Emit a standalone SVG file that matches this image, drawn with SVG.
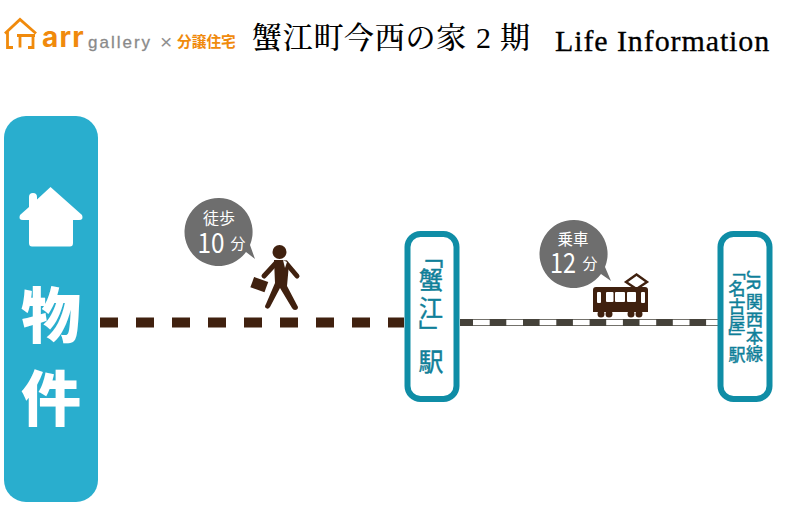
<svg xmlns="http://www.w3.org/2000/svg" width="800" height="506" viewBox="0 0 800 506">
<style>
.jp{font-family:"Noto Sans CJK JP","Noto Sans",sans-serif}
.serif{font-family:"Liberation Serif","Noto Serif CJK JP",serif}
.st{fill:#fff;stroke:#0f8da6;stroke-width:6}
.v{fill:#0f7f99;stroke:#0f7f99;stroke-width:.45;font-family:"Noto Sans CJK JP",sans-serif;writing-mode:vertical-rl}
.bub{fill:#6e6e6e}
.bt{fill:#fff;font-family:"Noto Sans CJK JP",sans-serif;text-anchor:middle}
.br{fill:#40210f}
.brl{stroke:#40210f;stroke-linecap:round;fill:none}
</style>
<rect width="800" height="506" fill="#fff"/>
<g id="header">
<g id="logo" fill="none" stroke="#f08a0c" stroke-width="2.800">
<path d="M5 33.500 L20 19.500 L36 33.500"/>
<path d="M7.500 32 V47.500 H13 M17 35.500 H35 M20 35.500 V47.500 M33 35.500 V47.500 H28"/>
</g>
<text x="42" y="47" font-family="Inter,'Liberation Sans',sans-serif" font-size="28" font-weight="700" fill="#f08a0c" letter-spacing="1.200">arr</text>
<text x="88" y="48" font-family="'Liberation Sans',sans-serif" font-size="17" fill="#8a8a8a" stroke="#8a8a8a" stroke-width=".3" letter-spacing="2">gallery</text>
<text x="160" y="49" font-family="'Liberation Sans',sans-serif" font-size="21" fill="#8f8f8f">×</text>
<text x="177" y="47" class="jp" font-size="14.700" font-weight="700" fill="#f08a0c">分譲住宅</text>
<text x="252" y="48" font-family="'Noto Serif CJK JP','Liberation Serif','Noto Sans CJK JP',serif" font-size="30" font-weight="500" fill="#000" letter-spacing=".7">蟹江町今西の家</text>
<text x="476" y="48" class="serif" font-size="30" fill="#000">2</text>
<text x="500" y="48" font-family="'Noto Serif CJK JP','Liberation Serif','Noto Sans CJK JP',serif" font-size="30" font-weight="500" fill="#000">期</text>
<text x="555" y="51" class="serif" font-size="30" fill="#000" stroke="#000" stroke-width=".3" letter-spacing=".9">Life Information</text>
</g>
<g id="connectors">
<path d="M100 322.500H404" stroke="#40210f" stroke-width="10" stroke-dasharray="18 18" fill="none"/>
<path d="M460 322.500H718" stroke="#45423a" stroke-width="7" fill="none"/>
<path d="M473 322.500H718" stroke="#fff" stroke-width="5.500" stroke-dasharray="16.700 16.600" fill="none"/>
</g>
<g id="property">
<rect x="4" y="116" width="94" height="386" rx="22" fill="#29aece"/>
<path d="M50.500 187 L82 215 Q84 220 79 220 H73 V243 Q73 246.500 70 246.500 H32 Q29 246.500 29 243 V220 H23 Q18 220 20 215 L29 207 V197 Q29 193 33 193 Q37 193 37 197 V199.500Z" fill="#fff"/>
<text class="bt" x="51" y="338" font-size="60" font-weight="900">物</text>
<text class="bt" x="51" y="421" font-size="60" font-weight="900">件</text>
</g>
<g id="walk-badge">
<path class="bub" d="M219 198 A34 34 0 1 0 246 252 L255 259 L250 245 A34 34 0 0 0 219 198Z"/>
<text class="bt" x="219" y="224" font-size="16">徒歩</text>
<text class="bt" x="211" y="253" font-size="28" textLength="27" lengthAdjust="spacingAndGlyphs" font-family="'Liberation Sans',sans-serif">10</text>
<text class="bt" x="238" y="249" font-size="15">分</text>
</g>
<g id="walker">
<circle cx="279.500" cy="252" r="7" class="br"/>
<path class="br" d="M274 260 L284 260 L289 264 L287 286 L298 307 Q298 310 295 310 Q293 310 292 308 L280 288 L270 307 Q268 310 266 308 Q264 307 266 304 L275 283Z"/>
<path class="brl" d="M276 263 L264 276 M286 263 L297 276" stroke-width="5"/>
<rect x="252" y="279" width="15" height="11" transform="rotate(20 259 284)" class="br"/>
<path d="M283 260 L285 268 L287 262Z" fill="#fff"/>
</g>
<g id="kani-station">
<rect class="st" x="407.500" y="234" width="49" height="165" rx="13"/>
<text class="v" x="431" y="244" font-size="24">「</text>
<text class="v" x="431" y="268" font-size="24">蟹</text>
<text class="v" x="431" y="296" font-size="24">江</text>
<text class="v" x="431" y="320" font-size="24">」</text>
<text class="v" x="431" y="349" font-size="25">駅</text>
</g>
<g id="train-badge">
<path class="bub" d="M574 220 A34 34 0 1 0 601 274 L611 281 L605 267 A34 34 0 0 0 574 220Z"/>
<text class="bt" x="573" y="245" font-size="15.500">乗車</text>
<text class="bt" x="563" y="273" font-size="28" textLength="26" lengthAdjust="spacingAndGlyphs" font-family="'Liberation Sans',sans-serif">12</text>
<text class="bt" x="590" y="269" font-size="15">分</text>
</g>
<g id="train">
<path d="M626 282 L636.500 274.500 L647 282 L636.500 289Z" fill="none" stroke="#40210f" stroke-width="2.400"/>
<path d="M593 290 Q593 287 596 287 H645 Q648 287 648 290 V312 H593Z" class="br"/>
<g fill="#fff">
<rect x="597" y="292" width="4" height="11" rx="1"/>
<rect x="606" y="292" width="7.500" height="10" rx="1"/>
<rect x="615" y="292" width="10" height="10" rx="1"/>
<rect x="627" y="292" width="9" height="10" rx="1"/>
<rect x="641" y="292" width="4" height="11" rx="1"/>
</g>
<g class="br"><circle cx="601" cy="314" r="3.500"/><circle cx="609" cy="314" r="3.500"/><circle cx="631" cy="314" r="3.500"/><circle cx="639" cy="314" r="3.500"/></g>
</g>
<g id="nagoya-station">
<rect class="st" x="720.500" y="234" width="49" height="165" rx="13"/>
<text class="v" x="754.500" y="270" font-size="17">JR</text>
<text class="v" x="754.500" y="293" font-size="17">関</text>
<text class="v" x="754.500" y="311" font-size="17">西</text>
<text class="v" x="754.500" y="328" font-size="17">本</text>
<text class="v" x="754.500" y="345" font-size="17">線</text>
<text class="v" x="737" y="263" font-size="17">「</text>
<text class="v" x="737" y="280" font-size="17">名</text>
<text class="v" x="737" y="298" font-size="17">古</text>
<text class="v" x="737" y="315" font-size="17">屋</text>
<text class="v" x="737" y="329" font-size="17">」</text>
<text class="v" x="737" y="346" font-size="17">駅</text>
</g>
</svg>
